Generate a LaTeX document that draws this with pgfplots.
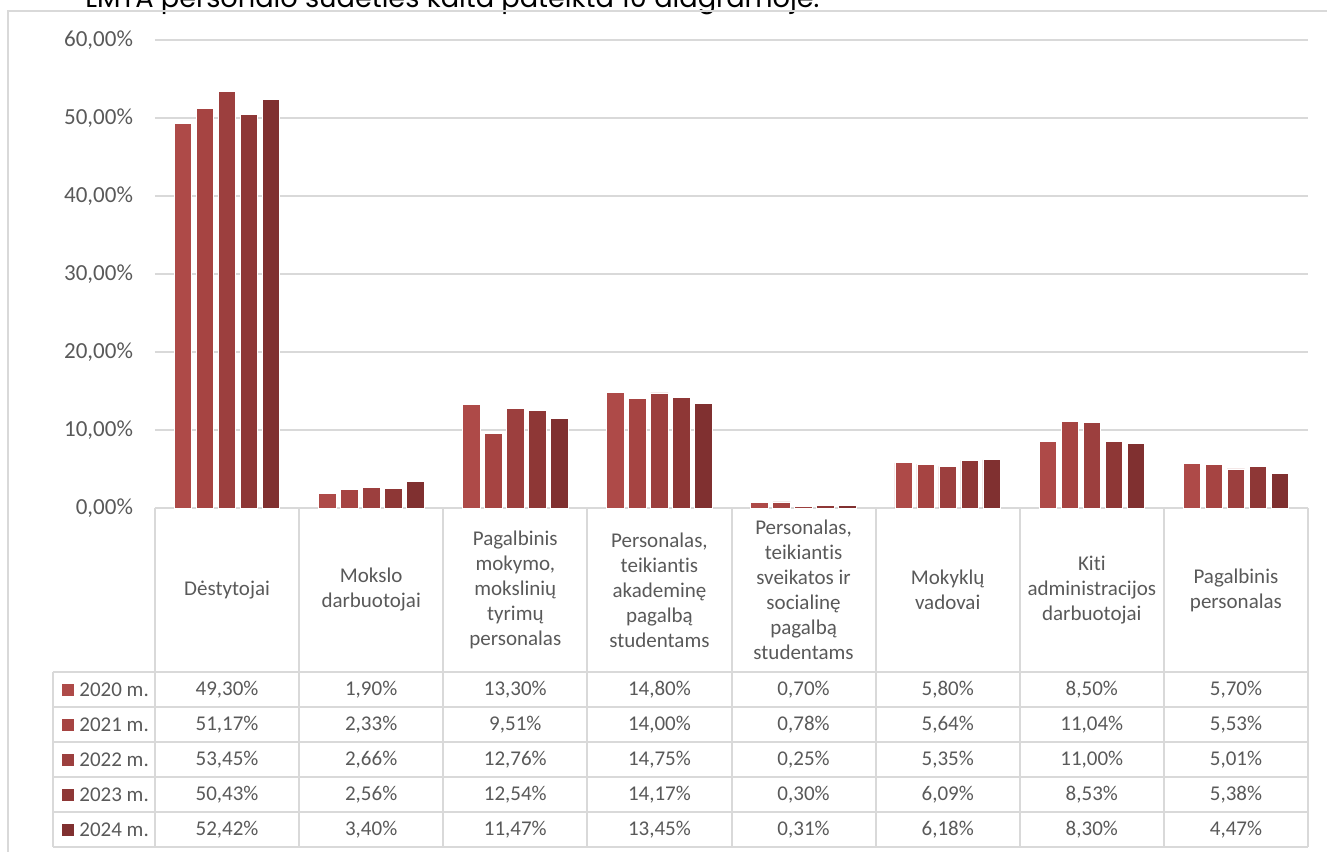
\documentclass[border=0pt]{standalone}
\usepackage{fontspec}
\setmainfont{Carlito}[RawFeature={-liga;-dlig;-calt}]
\newfontfamily\titlefont{Poppins}
\usepackage{pgfplots}
\usepackage{pgfplotstable}
\pgfplotsset{compat=1.18}
\pgfkeys{/pgf/number format/assume math mode=true}

\definecolor{c20}{HTML}{AE4A48}
\definecolor{c21}{HTML}{A64442}
\definecolor{c22}{HTML}{9C3F3E}
\definecolor{c23}{HTML}{8E3736}
\definecolor{c24}{HTML}{803030}
\definecolor{textgray}{HTML}{595959}
\definecolor{gridgray}{HTML}{D9D9D9}

% shares of staff, percent
\pgfplotstableread{
x y2020 y2021 y2022 y2023 y2024
0 49.30 51.17 53.45 50.43 52.42
1 1.90  2.33  2.66  2.56  3.40
2 13.30 9.51  12.76 12.54 11.47
3 14.80 14.00 14.75 14.17 13.45
4 0.70  0.78  0.25  0.30  0.31
5 5.80  5.64  5.35  6.09  6.18
6 8.50  11.04 11.00 8.53  8.30
7 5.70  5.53  5.01  5.38  4.47
}\datatable

\begin{document}
\begin{tikzpicture}
% pixel grid of the reference: 1px = 0.5pt, origin of axis at px (155,508)
\begin{scope}[x=0.5pt, y=-0.5pt, shift={(-77.5pt,254pt)}]
  \useasboundingbox (0,0) rectangle (1327,851);
  \node[anchor=base west, inner sep=0pt, font=\titlefont\fontsize{13.6}{15}\selectfont]
    at (85,8) {LMTA personalo sudėties kaita pateikta 10 diagramoje.};
  \draw[gridgray, line width=0.75pt] (8,870) -- (8,11) -- (1340,11);
\end{scope}

\begin{axis}[
  at={(0,0)}, anchor=south west,
  scale only axis, width=576.5pt, height=234pt,
  ybar=2.25pt, bar width=8.75pt,
  xmin=-0.5, xmax=7.5, ymin=0, ymax=60,
  xtick=\empty,
  ytick={0,10,...,60},
  yticklabel={\pgfmathprintnumber[fixed,fixed zerofill,precision=2,use comma]{\tick}\%},
  yticklabel style={font=\fontsize{11.5}{13}\selectfont, text=textgray, xshift=-7.5pt},
  major tick length=0pt,
  axis line style={draw=none},
  ymajorgrids, grid style={draw=gridgray, line width=0.75pt},
  clip=false,
]
\addplot[fill=c20, draw=white, line width=0.4pt] table[x=x, y=y2020] {\datatable};
\addplot[fill=c21, draw=white, line width=0.4pt] table[x=x, y=y2021] {\datatable};
\addplot[fill=c22, draw=white, line width=0.4pt] table[x=x, y=y2022] {\datatable};
\addplot[fill=c23, draw=white, line width=0.4pt] table[x=x, y=y2023] {\datatable};
\addplot[fill=c24, draw=white, line width=0.4pt] table[x=x, y=y2024] {\datatable};
\end{axis}

% data table under the plot
\begin{scope}[x=0.5pt, y=-0.5pt, shift={(-77.5pt,254pt)}]
  \begin{scope}[gridgray, line width=1pt]
    \foreach \c in {0,...,8}
      \draw ({155+144.125*\c},508) -- ({155+144.125*\c},847);
    \foreach \r in {0,...,5}
      \draw (53,{672+35*\r}) -- (1308,{672+35*\r});
    \draw (53,672) -- (53,847);
  \end{scope}
  \foreach \txt [count=\c from 0] in {
      {Dėstytojai},
      {Mokslo\\darbuotojai},
      {Pagalbinis\\mokymo,\\mokslinių\\tyrimų\\personalas},
      {Personalas,\\teikiantis\\akademinę\\pagalbą\\studentams},
      {Personalas,\\teikiantis\\sveikatos ir\\socialinę\\pagalbą\\studentams},
      {Mokyklų\\vadovai},
      {Kiti\\administracijos\\darbuotojai},
      {Pagalbinis\\personalas}}
    \node[align=center, text=textgray, font=\fontsize{10.5}{12.5}\selectfont]
      at ({155+144.125*(\c+0.5)},590) {\txt};
  \foreach \yr/\col [count=\r from 0] in {2020/c20,2021/c21,2022/c22,2023/c23,2024/c24} {
    \fill[\col] (62,{683.5+35*\r}) rectangle (74,{695.5+35*\r});
    \node[anchor=west, inner sep=0pt, text=textgray, font=\fontsize{10.5}{12.5}\selectfont]
      at (79,{689.5+35*\r}) {\yr{} m.};
    \foreach \c in {0,...,7} {
      \pgfplotstablegetelem{\c}{y\yr}\of\datatable
      \node[text=textgray, font=\fontsize{10.5}{12.5}\selectfont]
        at ({155+144.125*(\c+0.5)},{689.5+35*\r})
        {\pgfmathprintnumber[fixed,fixed zerofill,precision=2,use comma]{\pgfplotsretval}\%};
    }
  }
\end{scope}
\end{tikzpicture}
\end{document}
